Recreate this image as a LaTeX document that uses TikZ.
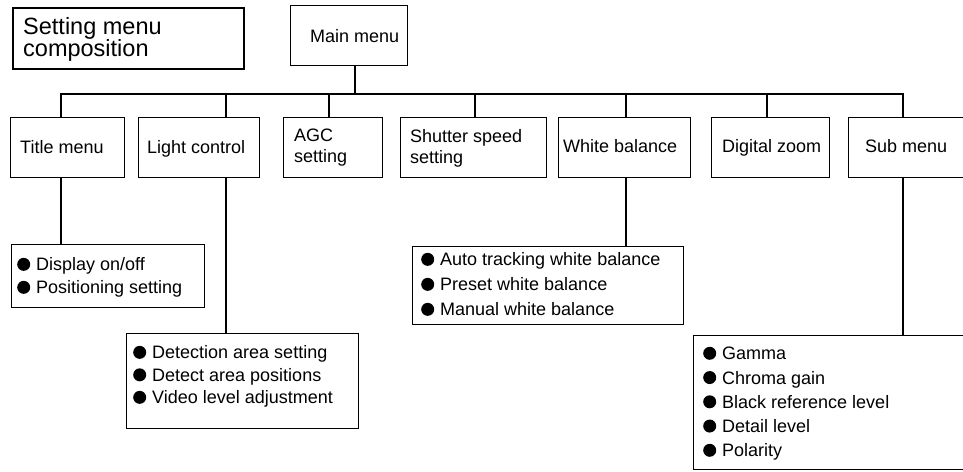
\documentclass[tikz,border=0pt]{standalone}
\usepackage{fontspec}
\setmainfont{Liberation Sans}
\newcommand\bul{\tikz[baseline=0pt]\fill (6.5pt,6.5pt) circle[radius=6.5pt];\hspace{6pt}}
\begin{document}
\begin{tikzpicture}[x=1pt,y=-1pt,
  box/.style={draw, line width=1.3pt, inner sep=0pt, anchor=north west},
  conn/.style={line width=2pt, line join=miter},
  txt/.style={inner sep=0pt, align=left, font=\fontsize{18}{21}\selectfont}]
\clip (0,0) rectangle (963,471);
\fill[white] (0,0) rectangle (963,471);
% boxes
\node[box, line width=2.4pt, minimum width=231pt, minimum height=61pt] (setbox) at (12,7) {};
\node[box, minimum width=117pt, minimum height=60pt] (main) at (290,5) {};
\node[box, minimum width=114pt, minimum height=60pt] (title) at (10,117) {};
\node[box, minimum width=121pt, minimum height=60pt] (light) at (138,117) {};
\node[box, minimum width=99pt, minimum height=60pt] (agc) at (283,117) {};
\node[box, minimum width=146pt, minimum height=60pt] (shutter) at (400,117) {};
\node[box, minimum width=132pt, minimum height=60pt] (wb) at (558,117) {};
\node[box, minimum width=118pt, minimum height=60pt] (zoom) at (711,117) {};
\node[box, minimum width=122pt, minimum height=60pt] (sub) at (848,117) {};
\node[box, minimum width=193pt, minimum height=63pt] (disp) at (11,244) {};
\node[box, minimum width=232pt, minimum height=95pt] (detect) at (126,333) {};
\node[box, minimum width=271pt, minimum height=78pt] (auto) at (412,246) {};
\node[box, minimum width=277pt, minimum height=134pt] (gamma) at (693,335) {};
% texts
\node[txt, font=\fontsize{23.5}{22}\selectfont, anchor=north west] (settxt) at (23,17.2) {Setting menu\\composition};
\node[txt, anchor=base west] (maintxt) at (310,42) {Main menu};
\node[txt, anchor=base west] (titletxt) at (20,153) {Title menu};
\node[txt, anchor=base west] (lighttxt) at (147,153) {Light control};
\node[txt, anchor=north west] (agctxt) at (294,129.1) {AGC\\setting};
\node[txt, anchor=north west] (shuttertxt) at (410,129.1) {Shutter speed\\setting};
\node[txt, anchor=base west] (wbtxt) at (563,152) {White balance};
\node[txt, anchor=base west] (zoomtxt) at (722,152) {Digital zoom};
\node[txt, anchor=base west] (subtxt) at (865,152) {Sub menu};
\node[txt, font=\fontsize{18}{23}\selectfont, anchor=north west] (disptxt) at (17,257.6)
  {\bul Display on/off\\\bul Positioning setting};
\node[txt, font=\fontsize{18}{22.5}\selectfont, anchor=north west] (dettxt) at (133,345.6)
  {\bul Detection area setting\\\bul Detect area positions\\\bul Video level adjustment};
\node[txt, font=\fontsize{18}{25}\selectfont, anchor=north west] (autotxt) at (421,252.6)
  {\bul Auto tracking white balance\\\bul Preset white balance\\\bul Manual white balance};
\node[txt, font=\fontsize{18}{24.25}\selectfont, anchor=north west] (gammatxt) at (703,346.6)
  {\bul Gamma\\\bul Chroma gain\\\bul Black reference level\\\bul Detail level\\\bul Polarity};
% connectors
\coordinate (j-main) at (355,93.5);
\foreach \n/\x in {title/61, light/226, agc/329, shutter/475, wb/626, zoom/767, sub/903}
  \coordinate (j-\n) at (\x,93.5);
\draw[conn] (j-main |- main.south) -- (j-main);
\draw[conn] (j-title |- title.north) -- (j-title) -- (j-sub) -- (j-sub |- sub.north);
\foreach \n in {light, agc, shutter, wb, zoom}
  \draw[conn] (j-\n) -- (j-\n |- \n.north);
\draw[conn] (j-title |- title.south) -- (j-title |- disp.north);
\draw[conn] (j-light |- light.south) -- (j-light |- detect.north);
\draw[conn] (j-wb |- wb.south) -- (j-wb |- auto.north);
\draw[conn] (j-sub |- sub.south) -- (j-sub |- gamma.north);
\end{tikzpicture}
\end{document}
